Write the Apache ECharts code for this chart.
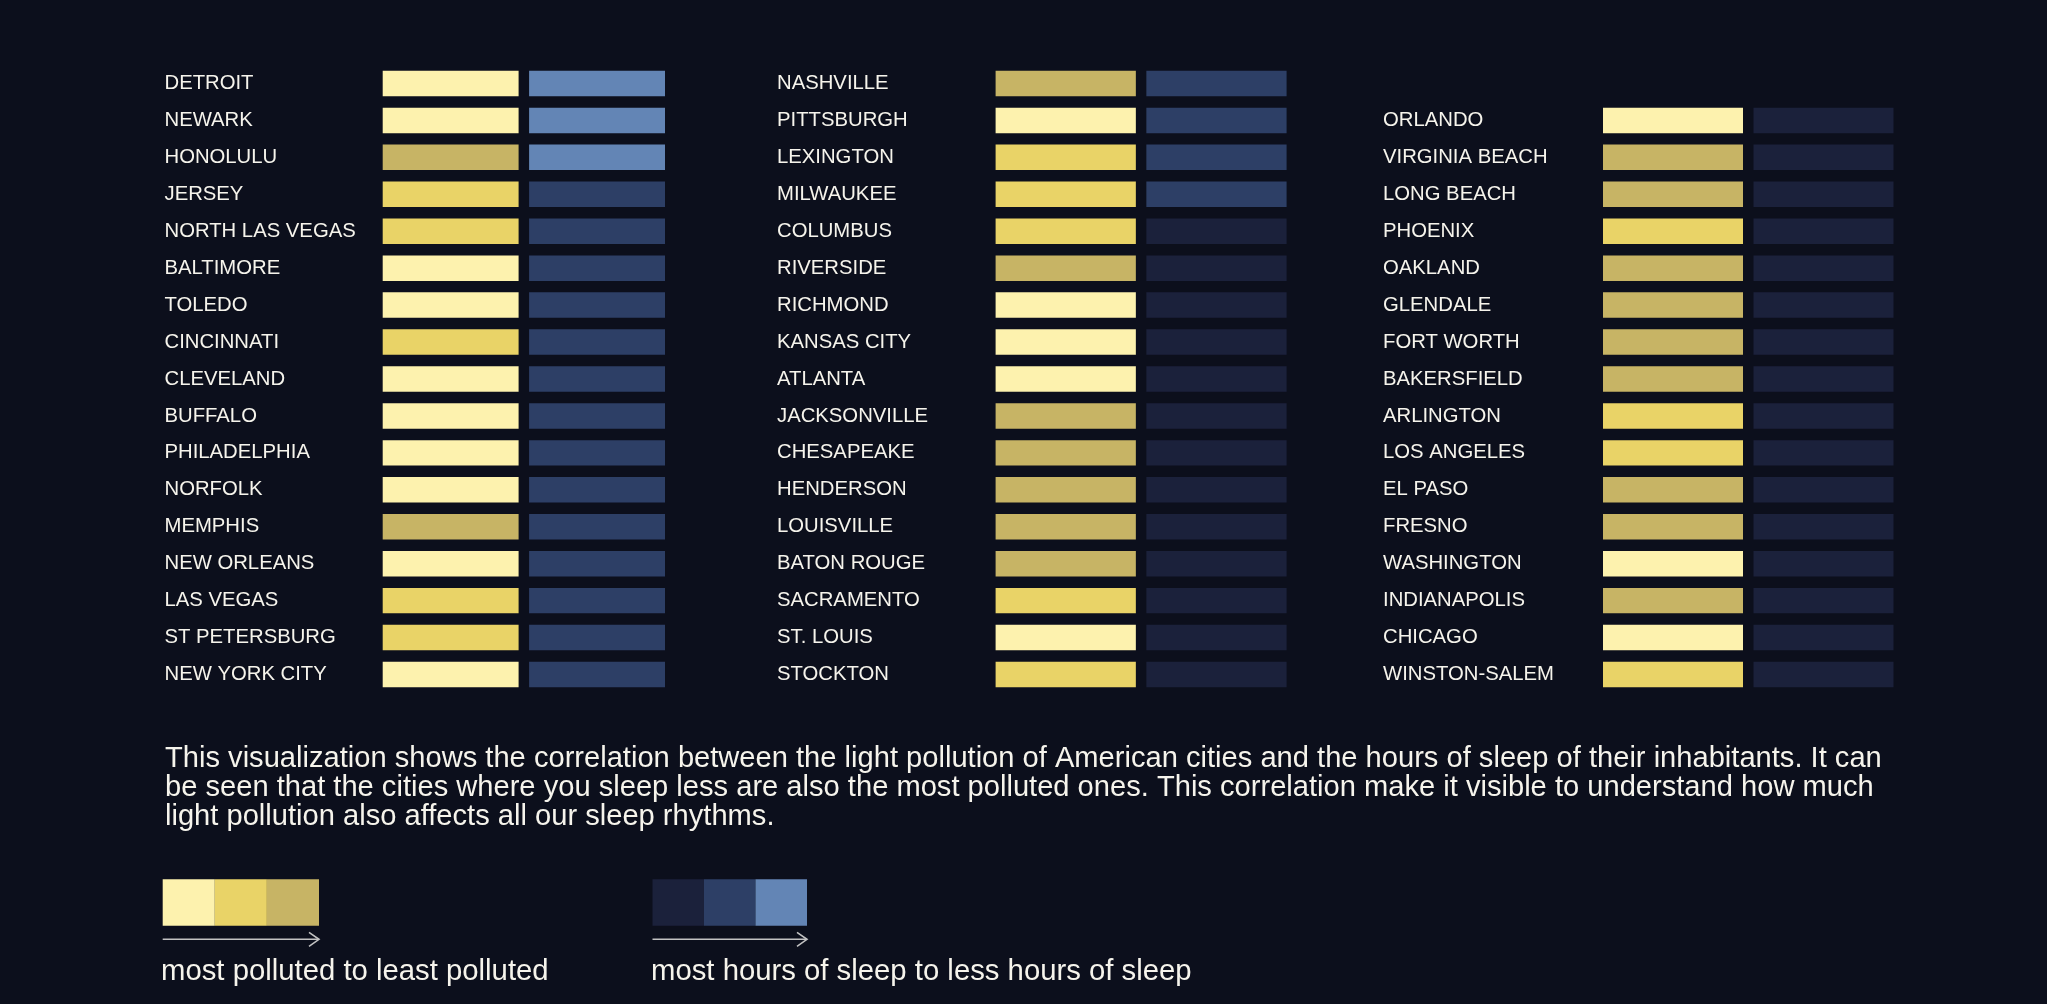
<!DOCTYPE html>
<html>
<head>
<meta charset="utf-8">
<style>
  html, body { margin: 0; padding: 0; background: #0c0f1c; }
  #chart { width: 2047px; height: 1004px; }
</style>
<script src="https://cdn.jsdelivr.net/npm/echarts@6/dist/echarts.min.js"></script>
</head>
<body>
<div id="chart"></div>
<script>
// ---------------- DATA ----------------
// pollution level: 0 = most polluted, 1 = medium, 2 = least polluted
// sleep level:     0 = most hours of sleep, 1 = medium, 2 = less hours of sleep
const citiesCol1 = ['DETROIT','NEWARK','HONOLULU','JERSEY','NORTH LAS VEGAS','BALTIMORE','TOLEDO','CINCINNATI','CLEVELAND','BUFFALO','PHILADELPHIA','NORFOLK','MEMPHIS','NEW ORLEANS','LAS VEGAS','ST PETERSBURG','NEW YORK CITY'];
const pollutionCol1 = [0,0,2,1,1,0,0,1,0,0,0,0,2,0,1,1,0];
const sleepCol1     = [2,2,2,1,1,1,1,1,1,1,1,1,1,1,1,1,1];

const citiesCol2 = ['NASHVILLE','PITTSBURGH','LEXINGTON','MILWAUKEE','COLUMBUS','RIVERSIDE','RICHMOND','KANSAS CITY','ATLANTA','JACKSONVILLE','CHESAPEAKE','HENDERSON','LOUISVILLE','BATON ROUGE','SACRAMENTO','ST. LOUIS','STOCKTON'];
const pollutionCol2 = [2,0,1,1,1,2,0,0,0,2,2,2,2,2,1,0,1];
const sleepCol2     = [1,1,1,1,0,0,0,0,0,0,0,0,0,0,0,0,0];

const citiesCol3 = ['ORLANDO','VIRGINIA BEACH','LONG BEACH','PHOENIX','OAKLAND','GLENDALE','FORT WORTH','BAKERSFIELD','ARLINGTON','LOS ANGELES','EL PASO','FRESNO','WASHINGTON','INDIANAPOLIS','CHICAGO','WINSTON-SALEM'];
const pollutionCol3 = [0,2,2,1,2,2,2,2,1,1,2,2,0,2,0,1];
const sleepCol3     = [0,0,0,0,0,0,0,0,0,0,0,0,0,0,0,0];

const measureNames = ['Light pollution', 'Hours of sleep'];
const pollutionLevels = ['most polluted', 'medium', 'least polluted'];
const sleepLevels = ['most hours of sleep', 'medium', 'less hours of sleep'];

const descriptionLines = [
  'This visualization shows the correlation between the light pollution of American cities and the hours of sleep of their inhabitants. It can',
  'be seen that the cities where you sleep less are also the most polluted ones. This correlation make it visible to understand how much',
  'light pollution also affects all our sleep rhythms.'
];
const legendPollutionText = 'most polluted to least polluted';
const legendSleepText = 'most hours of sleep to less hours of sleep';

// ---------------- STYLE ----------------
const BG = '#0c0f1c';
const TEXT = '#f6f4ec';
const FONT = '"Liberation Sans", Arial, Helvetica, sans-serif';
const pollutionColors = ['#fdf2ae', '#e9d367', '#c7b465'];
const sleepColors = ['#1b213b', '#2d3f66', '#6385b5'];
const GAP_X = 10.5;
const BAR_RATIO = 0.69;
const PITCH = 36.94;

function toData(levels) { return levels.map((v, i) => [0, i, v]); }
function toDataSleep(levels) { return levels.map((v, i) => [1, i, v]); }

function renderBar(params, api) {
  const c = api.coord([api.value(0), api.value(1)]);
  const s = api.size([1, 1]);
  const w = s[0] - GAP_X;
  const h = s[1] * BAR_RATIO;
  return {
    type: 'rect',
    shape: { x: c[0] - w / 2, y: c[1] - h / 2, width: w, height: h },
    style: { fill: api.visual('color') }
  };
}

const columns = [
  { cities: citiesCol1, pol: pollutionCol1, slp: sleepCol1, left: 377.45, width: 292.8, top: 65, labelX: 164.5 },
  { cities: citiesCol2, pol: pollutionCol2, slp: sleepCol2, left: 990.35, width: 301.5, top: 65, labelX: 777 },
  { cities: citiesCol3, pol: pollutionCol3, slp: sleepCol3, left: 1597.75, width: 301, top: 65 + PITCH, labelX: 1383 }
];

const grid = [], xAxis = [], yAxis = [], series = [];
columns.forEach((col, k) => {
  grid.push({ left: col.left, top: col.top, width: col.width, height: col.cities.length * PITCH, containLabel: false });
  xAxis.push({ type: 'category', gridIndex: k, data: measureNames, show: false });
  yAxis.push({
    type: 'category', gridIndex: k, data: col.cities, inverse: true,
    axisLine: { show: false }, axisTick: { show: false }, splitLine: { show: false },
    axisLabel: {
      align: 'left', margin: col.left - col.labelX,
      color: TEXT, fontSize: 20.3, fontFamily: FONT, padding: [2, 0, 0, 0]
    }
  });
  series.push({
    type: 'custom', name: 'pollution' + k, xAxisIndex: k, yAxisIndex: k,
    encode: { x: 0, y: 1 }, data: toData(col.pol), renderItem: renderBar, silent: true
  });
  series.push({
    type: 'custom', name: 'sleep' + k, xAxisIndex: k, yAxisIndex: k,
    encode: { x: 0, y: 1 }, data: toDataSleep(col.slp), renderItem: renderBar, silent: true
  });
});

// fit description font to measured line width
function measure(text, size) {
  const ctx = document.createElement('canvas').getContext('2d');
  ctx.font = size + 'px ' + FONT;
  return ctx.measureText(text).width;
}
const descSize = 28 * 1717 / measure(descriptionLines[0], 28);
const descCenters = [758.5, 787.5, 816.5];

const graphic = [];
descriptionLines.forEach((t, i) => {
  graphic.push({
    type: 'text', left: 165, top: descCenters[i] - descSize * 0.6, silent: true,
    style: { text: t, fill: TEXT, fontSize: descSize, fontFamily: FONT, lineHeight: descSize * 1.2 }
  });
});

function arrow(x0, x1, y) {
  return [
    { type: 'line', silent: true, shape: { x1: x0, y1: y, x2: x1, y2: y }, style: { stroke: '#c2c2c2', lineWidth: 1.6 } },
    { type: 'polyline', silent: true, shape: { points: [[x1 - 10, y - 7], [x1, y], [x1 - 10, y + 7]] }, style: { stroke: '#c2c2c2', lineWidth: 1.6, fill: null } }
  ];
}
graphic.push(...arrow(162.7, 319, 939.3));
graphic.push(...arrow(652.5, 807, 939.3));
const legSize = 29.3;
const legCenter = 972;
graphic.push({
  type: 'text', left: 161, top: legCenter - legSize * 0.6, silent: true,
  style: { text: legendPollutionText, fill: TEXT, fontSize: legSize, fontFamily: FONT, lineHeight: legSize * 1.2 }
});
graphic.push({
  type: 'text', left: 651, top: legCenter - legSize * 0.6, silent: true,
  style: { text: legendSleepText, fill: TEXT, fontSize: legSize, fontFamily: FONT, lineHeight: legSize * 1.2 }
});

const option = {
  backgroundColor: BG,
  animation: false,
  grid, xAxis, yAxis, series, graphic,
  visualMap: [
    {
      type: 'piecewise', dimension: 2, seriesIndex: [0, 2, 4],
      pieces: pollutionLevels.map((n, i) => ({ value: i, label: n, color: pollutionColors[i] })),
      orient: 'horizontal', left: 162.7, top: 879.3, padding: 0,
      itemWidth: 52.1, itemHeight: 46.4, itemGap: 0, itemSymbol: 'rect',
      showLabel: false, selectedMode: false, hoverLink: false
    },
    {
      type: 'piecewise', dimension: 2, seriesIndex: [1, 3, 5],
      pieces: sleepLevels.map((n, i) => ({ value: i, label: n, color: sleepColors[i] })),
      orient: 'horizontal', left: 652.5, top: 879.3, padding: 0,
      itemWidth: 51.5, itemHeight: 46.4, itemGap: 0, itemSymbol: 'rect',
      showLabel: false, selectedMode: false, hoverLink: false
    }
  ]
};

const chart = echarts.init(document.getElementById('chart'), null, { renderer: 'canvas' });
chart.setOption(option);
</script>
</body>
</html>
